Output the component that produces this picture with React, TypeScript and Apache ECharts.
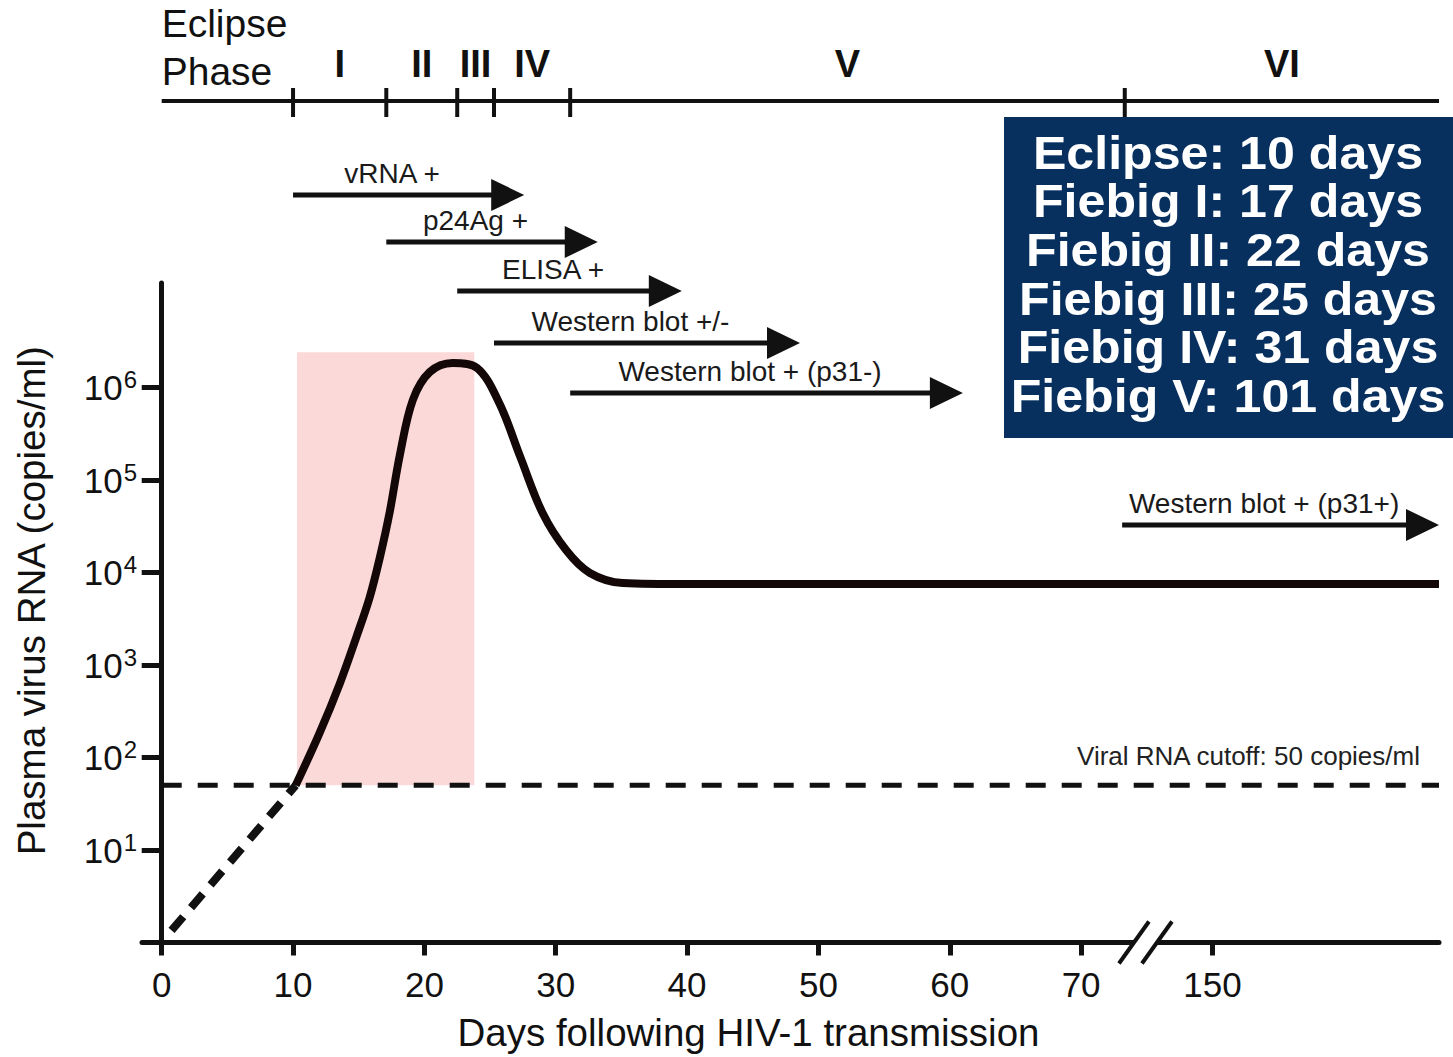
import React, { useEffect, useRef } from "react";
import * as echarts from "echarts";

// ---------- data ----------
// x axis: days following transmission; the axis is broken after day 70 (70..150 drawn compressed)
const X_TICK_DAYS = [0, 10, 20, 30, 40, 50, 60, 70, 150];
const Y_TICK_VALUES = [1e1, 1e2, 1e3, 1e4, 1e5, 1e6];
const BREAK_START_DAY = 70;
const BREAK_COMPRESSION = 8; // days 70..150 are drawn in the width of 10 days
const X_END_DAY = 288;

// eclipse phase: below detection (dashed)
const ECLIPSE_DAYS = [0.75, 10.2];
const ECLIPSE_COPIES = [1.35, 50];

// plasma virus RNA after detection (copies/ml)
const RNA_DAYS = [10.2, 12.0, 13.56, 14.85, 15.84, 16.6, 17.36, 18.13, 19.12, 20.41, 22.16, 24.0, 25.7, 27.3, 29.0, 30.8, 32.6, 35.1, 40, 288];
const RNA_COPIES = [50, 181, 630, 2060, 5430, 14350, 45100, 186000, 733000, 1470000, 1840000, 1630000, 680000, 178000, 44000, 17400, 9900, 7700, 7500, 7500];

const CUTOFF_COPIES = 50;
const CUTOFF_LABEL = "Viral RNA cutoff: 50 copies/ml";

// acute window (shaded)
const SHADE_START_DAY = 10.3;
const SHADE_END_DAY = 23.8;
const SHADE_TOP_COPIES = 2.4e6;

// Fiebig stages
const PHASE_NAMES = ["I", "II", "III", "IV", "V", "VI"];
const PHASE_START_DAYS = [10, 17.1, 22.5, 25.3, 31.1, 96.6];
const PHASE_END_DAYS = [17.1, 22.5, 25.3, 31.1, 96.6, 288];

// assays that become positive
const ASSAY_LABELS = ["vRNA +", "p24Ag +", "ELISA +", "Western blot +/-", "Western blot + (p31-)", "Western blot + (p31+)"];
const ASSAY_START_DAYS = [10, 17.1, 22.5, 25.3, 31.1, 95];
const ASSAY_END_DAYS = [27.6, 33.2, 39.6, 48.6, 61.0, 288];

const SUMMARY_LINES = [
  "Eclipse: 10 days",
  "Fiebig I: 17 days",
  "Fiebig II: 22 days",
  "Fiebig III: 25 days",
  "Fiebig IV: 31 days",
  "Fiebig V: 101 days",
];

// ---------- layout (not data) ----------
const PHASE_ROW = 2.02;
const ARROW_ROWS = [3.9, 4.84, 5.82, 6.86, 7.86, 10.5];
const BREAK_MARK_POS = 74.9;
const FONT = "'Liberation Sans', Arial, Helvetica, sans-serif";
const INK = "#111111";

const disp = (d: number) =>
  d <= BREAK_START_DAY ? d : BREAK_START_DAY + (d - BREAK_START_DAY) / BREAK_COMPRESSION;

const X_MIN = -1.5;
const X_MAX = disp(X_END_DAY);

function buildOption(): any {
  const tickPos = X_TICK_DAYS.map(disp);
  const tickLabel: Record<string, string> = {};
  X_TICK_DAYS.forEach((d) => (tickLabel[String(disp(d))] = String(d)));

  const gridLeft = 142;
  const gridRight = 14;

  return {
    animation: false,
    backgroundColor: "#ffffff",
    grid: [
      { left: gridLeft, right: gridRight, top: 283, bottom: 114.5, containLabel: false, outerBoundsMode: "none" },
      { left: gridLeft, right: gridRight, top: 0, height: 650, containLabel: false, outerBoundsMode: "none" },
    ],
    xAxis: [
      {
        type: "value",
        gridIndex: 0,
        min: X_MIN,
        max: X_MAX,
        axisLine: { onZero: false, lineStyle: { color: INK, width: 5 } },
        axisTick: {
          show: true,
          customValues: tickPos,
          length: 13,
          lineStyle: { color: INK, width: 5 },
        },
        axisLabel: {
          customValues: tickPos,
          formatter: (v: number) => tickLabel[String(v)] ?? "",
          color: INK,
          fontFamily: FONT,
          fontSize: 35,
          margin: 24,
        },
        splitLine: { show: false },
        name: "Days following HIV-1 transmission",
        nameLocation: "middle",
        nameGap: 70,
        nameTextStyle: {
          color: INK,
          fontFamily: FONT,
          fontSize: 38.5,
          padding: [0, 84, 0, 0],
        },
      },
      {
        type: "value",
        gridIndex: 1,
        min: X_MIN,
        max: X_MAX,
        show: false,
      },
    ],
    yAxis: [
      {
        type: "log",
        logBase: 10,
        gridIndex: 0,
        min: 1,
        max: Math.pow(10, 7.13),
        axisLine: { show: true, lineStyle: { color: INK, width: 5 } },
        axisTick: {
          show: true,
          customValues: Y_TICK_VALUES,
          length: 20,
          lineStyle: { color: INK, width: 5 },
        },
        axisLabel: {
          customValues: Y_TICK_VALUES,
          formatter: (v: number) => `10{sup|${Math.round(Math.log10(v))}}`,
          color: INK,
          fontFamily: FONT,
          fontSize: 35,
          margin: 5,
          rich: {
            sup: { fontSize: 24, fontFamily: FONT, color: INK, verticalAlign: "top", padding: [0, 0, 16, 1] },
          },
        },
        splitLine: { show: false },
        name: "Plasma virus RNA (copies/ml)",
        nameLocation: "middle",
        nameRotate: 90,
        nameGap: 91,
        nameTextStyle: { color: INK, fontFamily: FONT, fontSize: 38.5, padding: [0, 0, 0, 24] },
      },
      {
        type: "value",
        gridIndex: 1,
        min: 0,
        max: 13,
        inverse: true,
        show: false,
      },
    ],
    series: [
      // shaded acute window
      {
        type: "line",
        xAxisIndex: 0,
        yAxisIndex: 0,
        data: [],
        silent: true,
        z: 1,
        markArea: {
          silent: true,
          itemStyle: { color: "#fcd9d9" },
          data: [
            [
              { coord: [disp(SHADE_START_DAY), CUTOFF_COPIES] },
              { coord: [disp(SHADE_END_DAY), SHADE_TOP_COPIES] },
            ],
          ],
        },
      },
      // cutoff dashed line
      {
        type: "line",
        xAxisIndex: 0,
        yAxisIndex: 0,
        z: 3,
        showSymbol: false,
        silent: true,
        data: [
          [0, CUTOFF_COPIES],
          [X_MAX, CUTOFF_COPIES],
        ],
        lineStyle: { color: INK, width: 5, type: [20, 16] },
      },
      // cutoff label
      {
        type: "custom",
        xAxisIndex: 0,
        yAxisIndex: 0,
        z: 3,
        silent: true,
        data: [[X_MAX, CUTOFF_COPIES]],
        renderItem: (params: any, api: any) => {
          const c = api.coord([api.value(0), api.value(1)]);
          return {
            type: "text",
            style: {
              text: CUTOFF_LABEL,
              x: c[0] - 19,
              y: c[1] - 29,
              align: "right",
              verticalAlign: "middle",
              fill: "#222",
              fontFamily: FONT,
              fontSize: 26,
            },
          };
        },
      },
      // eclipse (undetectable) dashed rise
      {
        type: "line",
        xAxisIndex: 0,
        yAxisIndex: 0,
        z: 4,
        showSymbol: false,
        data: ECLIPSE_DAYS.map((d, i) => [disp(d), ECLIPSE_COPIES[i]]),
        lineStyle: { color: INK, width: 8, type: [18, 12], cap: "butt" },
      },
      // viral load curve
      {
        type: "line",
        xAxisIndex: 0,
        yAxisIndex: 0,
        z: 5,
        smooth: 0.35,
        showSymbol: false,
        data: RNA_DAYS.map((d, i) => [disp(d), RNA_COPIES[i]]),
        lineStyle: { color: "#140707", width: 8 },
      },
      // axis break mark
      {
        type: "custom",
        xAxisIndex: 0,
        yAxisIndex: 0,
        z: 10,
        silent: true,
        data: [[BREAK_MARK_POS, 1]],
        renderItem: (params: any, api: any) => {
          const c = api.coord([api.value(0), api.value(1)]);
          const cx = c[0];
          const cy = c[1];
          const slash = (off: number) => ({
            type: "line",
            shape: { x1: cx + off - 15, y1: cy + 21, x2: cx + off + 15, y2: cy - 21 },
            style: { stroke: INK, lineWidth: 4 },
          });
          return {
            type: "group",
            children: [
              {
                type: "polygon",
                shape: {
                  points: [
                    [cx - 14.5, cy + 5],
                    [cx - 7.5, cy - 5],
                    [cx + 14.5, cy - 5],
                    [cx + 7.5, cy + 5],
                  ],
                },
                style: { fill: "#ffffff" },
              },
              slash(-11.5),
              slash(11.5),
            ],
          };
        },
      },
      // phase line
      {
        type: "line",
        xAxisIndex: 1,
        yAxisIndex: 1,
        showSymbol: false,
        silent: true,
        data: [
          [0, PHASE_ROW],
          [X_MAX, PHASE_ROW],
        ],
        lineStyle: { color: INK, width: 4 },
      },
      // phase ticks + labels
      {
        type: "custom",
        xAxisIndex: 1,
        yAxisIndex: 1,
        silent: true,
        data: PHASE_NAMES.map((_, i) => [disp(PHASE_START_DAYS[i]), disp(PHASE_END_DAYS[i]), PHASE_ROW]),
        renderItem: (params: any, api: any) => {
          const s = api.coord([api.value(0), api.value(2)]);
          const e = api.coord([Math.min(api.value(1), X_MAX), api.value(2)]);
          const children: any[] = [
            {
              type: "text",
              style: {
                text: PHASE_NAMES[params.dataIndex],
                x: (s[0] + e[0]) / 2,
                y: s[1] - 37,
                align: "center",
                verticalAlign: "middle",
                fill: INK,
                fontFamily: FONT,
                fontSize: 38,
                fontWeight: "bold",
              },
            },
            {
              type: "line",
              shape: { x1: s[0], y1: s[1] - 13, x2: s[0], y2: s[1] + 16 },
              style: { stroke: INK, lineWidth: 4 },
            },
          ];
          if (params.dataIndex === 0) {
            const o = api.coord([0, api.value(2)]);
            children.push({
              type: "text",
              style: {
                text: "Eclipse\nPhase",
                x: o[0],
                y: o[1] - 6,
                align: "left",
                verticalAlign: "bottom",
                fill: INK,
                fontFamily: FONT,
                fontSize: 39,
                lineHeight: 48,
              },
            });
          }
          return { type: "group", children };
        },
      },
      // assay arrows
      {
        type: "custom",
        xAxisIndex: 1,
        yAxisIndex: 1,
        silent: true,
        z: 6,
        data: ASSAY_LABELS.map((_, i) => [disp(ASSAY_START_DAYS[i]), disp(ASSAY_END_DAYS[i]), ARROW_ROWS[i]]),
        renderItem: (params: any, api: any) => {
          const s = api.coord([api.value(0), api.value(2)]);
          const t = api.coord([api.value(1), api.value(2)]);
          const headLen = 33;
          const headHalf = 16;
          const y = s[1];
          return {
            type: "group",
            children: [
              {
                type: "line",
                shape: { x1: s[0], y1: y, x2: t[0] - headLen + 2, y2: y },
                style: { stroke: INK, lineWidth: 5 },
              },
              {
                type: "polygon",
                shape: {
                  points: [
                    [t[0] - headLen, y - headHalf],
                    [t[0], y],
                    [t[0] - headLen, y + headHalf],
                  ],
                },
                style: { fill: INK },
              },
              {
                type: "text",
                style: {
                  text: ASSAY_LABELS[params.dataIndex],
                  x: (s[0] + t[0] - headLen) / 2,
                  y: y - 8,
                  align: "center",
                  verticalAlign: "bottom",
                  fill: "#1a1a1a",
                  fontFamily: FONT,
                  fontSize: 28,
                },
              },
            ],
          };
        },
      },
    ],
    graphic: [
      {
        type: "group",
        left: 1004,
        top: 117,
        children: [
          {
            type: "rect",
            shape: { x: 0, y: 0, width: 449, height: 321 },
            style: { fill: "#08305f" },
          },
          {
            type: "text",
            x: 224,
            y: 157,
            scaleX: 1.09,
            style: {
              text: SUMMARY_LINES.join("\n"),
              align: "center",
              verticalAlign: "middle",
              fill: "#ffffff",
              fontFamily: FONT,
              fontSize: 46,
              fontWeight: "bold",
              lineHeight: 48.6,
            },
          },
        ],
      },
    ],
  };
}

export default function App() {
  const ref = useRef<HTMLDivElement | null>(null);
  useEffect(() => {
    if (!ref.current) return;
    const chart = echarts.init(ref.current, undefined, { renderer: "svg" });
    chart.setOption(buildOption());
    return () => chart.dispose();
  }, []);
  return (
    <div
      ref={ref}
      style={{ position: "fixed", left: 0, top: 0, width: 1453, height: 1057, background: "#fff" }}
    />
  );
}
